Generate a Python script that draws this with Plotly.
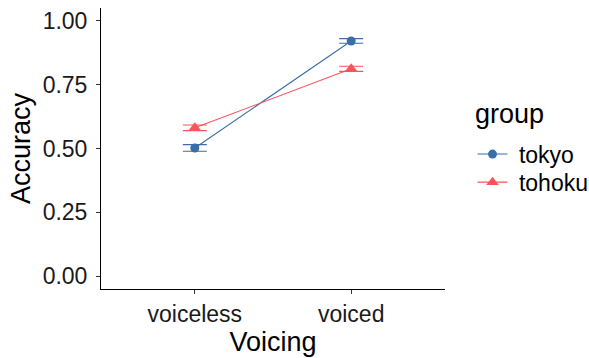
import plotly.graph_objects as go

# Mean accuracy by voicing condition for each speaker group, with standard errors
voicing = ["voiceless", "voiced"]
groups = ["tokyo", "tohoku"]
tokyo_acc = [0.502, 0.921]
tokyo_se = [0.013, 0.009]
tohoku_acc = [0.581, 0.812]
tohoku_se = [0.011, 0.010]
y_ticks = [0.00, 0.25, 0.50, 0.75, 1.00]

colors = {"tokyo": "#3A6EA8", "tohoku": "#F8545A"}
symbols = {"tokyo": "circle", "tohoku": "triangle-up"}
sizes = {"tokyo": 9, "tohoku": 11}
values = {"tokyo": (tokyo_acc, tokyo_se), "tohoku": (tohoku_acc, tohoku_se)}
# each group gets its own legend box so the rows can sit close together
legend_ids = {"tokyo": "legend", "tohoku": "legend2"}

FONT = "Liberation Sans, Arial, sans-serif"
TICK_SIZE = 23
TITLE_SIZE = 27

fig = go.Figure()
for g in groups:
    acc, se = values[g]
    fig.add_trace(go.Scatter(
        x=[0, 1], y=acc, name="\u00a0" + g, mode="lines+markers",
        legend=legend_ids[g], showlegend=True,
        line=dict(color=colors[g], width=1.1),
        marker=dict(color=colors[g], symbol=symbols[g], size=sizes[g]),
        error_y=dict(type="data", array=se, visible=True,
                     color=colors[g], thickness=1.1, width=12),
    ))

axis_common = dict(
    showline=True, linecolor="black", linewidth=1,
    ticks="outside", ticklen=4, tickcolor="#333333", tickwidth=1,
    showgrid=False, zeroline=False, mirror=False,
    tickfont=dict(family=FONT, size=TICK_SIZE, color="#1a1a1a"),
)

legend_common = dict(
    font=dict(family=FONT, size=TICK_SIZE),
    xanchor="left", yanchor="middle", itemwidth=30,
    bgcolor="rgba(0,0,0,0)",
)

fig.update_layout(
    width=589, height=358,
    showlegend=True,
    margin=dict(l=101, r=144, t=8, b=69, autoexpand=False),
    plot_bgcolor="white", paper_bgcolor="white",
    font=dict(family=FONT, color="black"),
    xaxis=dict(
        range=[-0.6, 1.6], tickvals=[0, 1], ticktext=voicing,
        title=dict(text="Voicing", font=dict(family=FONT, size=TITLE_SIZE), standoff=2),
        **axis_common,
    ),
    yaxis=dict(
        range=[-0.05, 1.05], tickvals=y_ticks,
        ticktext=[f"{v:.2f}" for v in y_ticks],
        ticklabelstandoff=4,
        title=dict(text="Accuracy", font=dict(family=FONT, size=TITLE_SIZE), standoff=4),
        **axis_common,
    ),
    legend=dict(x=1.080, y=0.480, **legend_common),
    legend2=dict(x=1.080, y=0.380, **legend_common),
    annotations=[dict(
        text="group", xref="paper", yref="paper", x=1.081, y=0.622,
        xanchor="left", yanchor="middle", showarrow=False,
        font=dict(family=FONT, size=TITLE_SIZE),
    )],
)

fig.write_html("out.html")
